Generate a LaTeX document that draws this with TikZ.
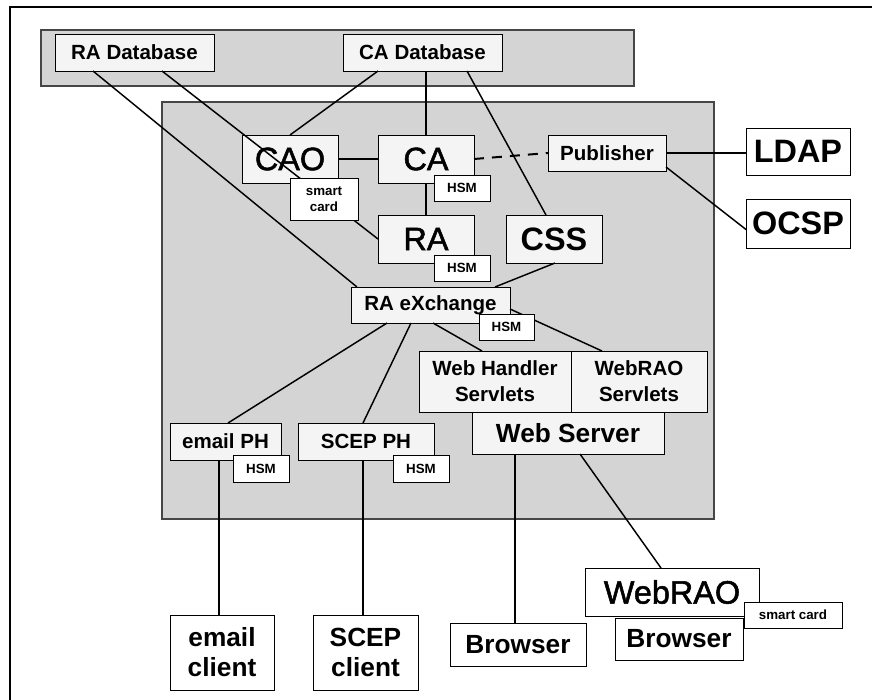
\documentclass[tikz,border=0pt]{standalone}
\usepackage{fontspec}
\setmainfont{Liberation Sans}
\newfontfamily\heavyface[FakeBold=1.6]{Liberation Sans}
\usetikzlibrary{calc}

\definecolor{panelfill}{RGB}{212,212,212}
\definecolor{panelrule}{RGB}{70,70,70}
\definecolor{dotfill}{RGB}{244,244,244}

% box from corner (x1,y1) to corner (x2,y2), in pixel units with y pointing down
\newcommand\pxbox[6][]{\node[#1, minimum width={(#4-#2)*0.75pt}, minimum height={(#5-#3)*0.75pt}] (#6) at ({(#2+#4)/2},{(#3+#5)/2})}

\tikzset{
  box/.style={draw=black, line width=0.75pt, inner sep=0pt, outer sep=0pt, align=center, fill=white},
  inbox/.style={box, fill=dotfill},
  fsmall/.style={font=\fontsize{10}{12}\selectfont\bfseries},
  fmid/.style={font=\fontsize{15.4}{19.5}\selectfont\bfseries},
  flarge/.style={font=\fontsize{19.7}{22.5}\selectfont\bfseries},
  fbig/.style={font=\heavyface\fontsize{24.3}{28}\selectfont},
  fbigb/.style={font=\fontsize{24.3}{28}\selectfont\bfseries},
  link/.style={line width=1.1pt, draw=black},
  panel/.style={fill=panelfill, draw=panelrule, line width=0.9pt},
}

\begin{document}
\begin{tikzpicture}[x=0.75pt, y=-0.75pt]
\useasboundingbox (0,0) rectangle (872,700);

% outer frame (top and left edges)
\draw[line width=1.3pt] (10,700) -- (10,7) -- (872,7);

% grey panels
\draw[panel] (41,30) rectangle (634,86);
\draw[panel] (162,102) rectangle (714,519);

% main components
\pxbox[inbox, fmid]{55}{34}{214}{71}{radb} {RA Database};
\pxbox[inbox, fmid]{343}{34}{502}{71}{cadb} {CA Database};
\pxbox[inbox, fbig]{242}{135}{338}{183}{cao} {CAO};
\pxbox[inbox, fbig]{378}{135}{474}{183}{ca} {CA};
\pxbox[inbox, fbig]{378}{215}{474}{263}{ra} {RA};
\pxbox[inbox, fbigb]{506}{215}{602}{263}{css} {CSS};
\pxbox[inbox, fmid]{548}{135}{666}{171}{pub} {Publisher};
\pxbox[box, fbigb]{746}{128}{850}{175}{ldap} {LDAP};
\pxbox[box, fbigb]{746}{199}{850}{248}{ocsp} {OCSP};
\pxbox[inbox, fmid]{351}{287}{510}{323}{rax} {RA eXchange};
\pxbox[inbox, fmid]{419}{351}{571}{412}{wh} {Web Handler\\Servlets};
\pxbox[inbox, fmid]{571}{351}{707}{412}{wrs} {WebRAO\\Servlets};
\pxbox[inbox, flarge]{472}{412}{664}{454}{wsv} {Web Server};
\pxbox[inbox, fmid]{170}{423}{281}{460}{eph} {email PH};
\pxbox[inbox, fmid]{298}{423}{434}{460}{sph} {SCEP PH};
\pxbox[box, flarge]{170}{615}{274}{690}{ecl} {email\\client};
\pxbox[box, flarge]{313}{615}{418}{690}{scl} {SCEP\\client};
\pxbox[box, flarge]{450}{623}{586}{666}{br} {Browser};
\pxbox[box, fbig]{585}{568}{759}{616}{wr} {WebRAO};
\pxbox[box, flarge]{615}{618}{743}{660}{wrbr} {Browser};

% connectors
\draw[link] ($(radb.south west)+(38,0)$) -- ($(rax.north west)+(6,0)$);
\draw[link] ($(radb.south west)+(107,0)$) -- (ra.west);
\draw[link] ($(cadb.south west)+(35,0)$) -- (cao.north);
\draw[link] (ca.north |- cadb.south) -- (ca.north);
\draw[link] ($(cadb.south west)+(124,0)$) -- ($(css.north west)+(40,0)$);
\draw[link] (cao.east) -- (ca.west);
\draw[link] (ca.south) -- (ra.north);
\draw[link, line width=1.5pt, dash pattern=on 7.5pt off 6pt] (ca.east) -- (pub.west);
\draw[link] (pub.east) -- (pub.east -| ldap.west);
\draw[link] ($(pub.south east)+(0,-4)$) -- ($(ocsp.west)+(0,6)$);
\draw[link] ($(css.south west)+(49,0)$) -- ($(rax.north west)+(144,0)$);
\draw[link] ($(rax.south west)+(36,0)$) -- ($(eph.north west)+(58,0)$);
\draw[link] ($(rax.south west)+(60,0)$) -- ($(sph.north west)+(65,0)$);
\draw[link] ($(rax.south west)+(82,0)$) -- ($(wh.north west)+(63,0)$);
\draw[link] ($(rax.east)+(0,4)$) -- ($(wrs.north west)+(31,0)$);
\coordinate (e1) at ($(eph.south west)+(49,0)$);
\draw[link] (e1) -- (e1 |- ecl.north);
\coordinate (s1) at ($(sph.south west)+(65,0)$);
\draw[link] (s1) -- (s1 |- scl.north);
\coordinate (w1) at ($(wsv.south west)+(43,0)$);
\draw[link] (w1) -- (w1 |- br.north);
\draw[link] ($(wsv.south west)+(108,0)$) -- ($(wr.north west)+(76,0)$);

% attached hardware modules and smart cards
\pxbox[box, fsmall]{290}{178}{358}{220}{sc1} {smart\\card};
\pxbox[box, fsmall]{434}{175}{490}{201}{hsmca} {HSM};
\pxbox[box, fsmall]{434}{255}{490}{281}{hsmra} {HSM};
\pxbox[box, fsmall]{479}{314}{534}{340}{hsmrax} {HSM};
\pxbox[box, fsmall]{233}{455}{289}{482}{hsmeph} {HSM};
\pxbox[box, fsmall]{393}{455}{449}{482}{hsmsph} {HSM};
\pxbox[box, fsmall]{744}{602}{842}{628}{sc2} {smart card};
\end{tikzpicture}
\end{document}
